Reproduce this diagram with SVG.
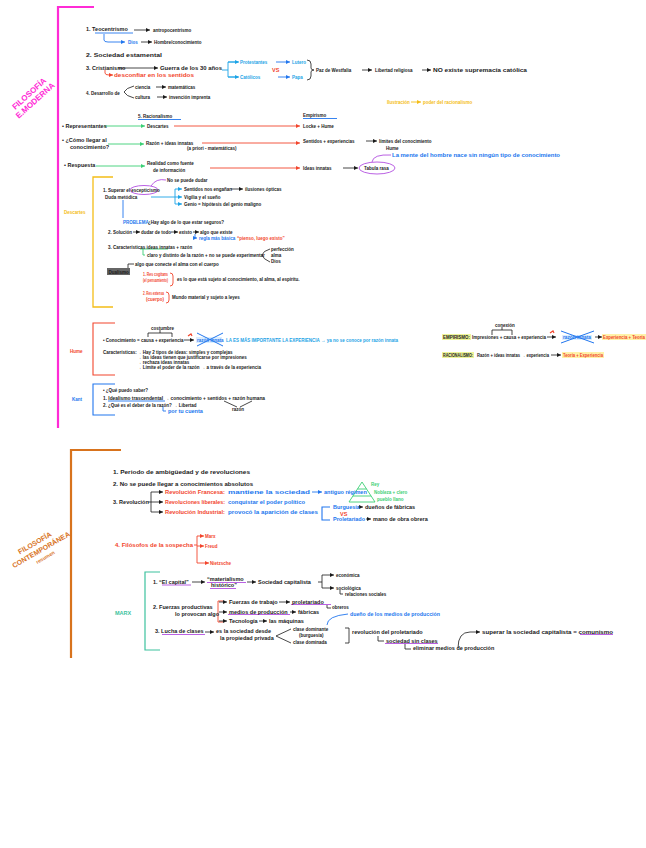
<svg xmlns="http://www.w3.org/2000/svg" width="646" height="848" viewBox="0 0 646 848">
<style>
text{font-family:"Liberation Sans",Arial,sans-serif;font-weight:bold;fill:#1a1a1a}
.m{font-size:5.5px}.s{font-size:4.5px}.l{font-size:6.5px}
.bl{fill:#2176ee}.cy{fill:#1ba3e6}.rd{fill:#f2452c}.gr{fill:#3bcf74}.yl{fill:#f4bd17}.tl{fill:#3cc29e}.mg{fill:#ff2bd6}.or{fill:#d8731d}
.ln{fill:none;stroke:#1a1a1a;stroke-width:0.8}
.lb{fill:none;stroke:#2176ee;stroke-width:0.9}
.lc{fill:none;stroke:#1ba3e6;stroke-width:0.9}
.lr{fill:none;stroke:#f2452c;stroke-width:0.9}
.lg{fill:none;stroke:#3bcf74;stroke-width:0.9}
.lp{fill:none;stroke:#b24fe0;stroke-width:0.9}
.ly{fill:none;stroke:#f4bd17;stroke-width:0.9}
</style>
<defs>
<marker id="ak" markerWidth="5" markerHeight="5" refX="4" refY="2.5" orient="auto" markerUnits="userSpaceOnUse"><path d="M0,0.5 L4,2.5 L0,4.5 Z" fill="#1a1a1a"/></marker>
<marker id="ab" markerWidth="5" markerHeight="5" refX="4" refY="2.5" orient="auto" markerUnits="userSpaceOnUse"><path d="M0,0.5 L4,2.5 L0,4.5 Z" fill="#2176ee"/></marker>
<marker id="ac" markerWidth="5" markerHeight="5" refX="4" refY="2.5" orient="auto" markerUnits="userSpaceOnUse"><path d="M0,0.5 L4,2.5 L0,4.5 Z" fill="#1ba3e6"/></marker>
<marker id="ar" markerWidth="5" markerHeight="5" refX="4" refY="2.5" orient="auto" markerUnits="userSpaceOnUse"><path d="M0,0.5 L4,2.5 L0,4.5 Z" fill="#f2452c"/></marker>
<marker id="ag" markerWidth="5" markerHeight="5" refX="4" refY="2.5" orient="auto" markerUnits="userSpaceOnUse"><path d="M0,0.5 L4,2.5 L0,4.5 Z" fill="#3bcf74"/></marker>
<marker id="ay" markerWidth="5" markerHeight="5" refX="4" refY="2.5" orient="auto" markerUnits="userSpaceOnUse"><path d="M0,0.5 L4,2.5 L0,4.5 Z" fill="#f4bd17"/></marker>
</defs>

<!-- section frames -->
<g id="frame-moderna">
<path d="M94 7 H58 V428" fill="none" stroke="#ff2bd6" stroke-width="2.2"/>
<g transform="translate(33 98) rotate(-42)">
<text class="mg" x="0" y="-3" text-anchor="middle" style="font-size:8px">FILOSOFÍA</text>
<text class="mg" x="0" y="6" text-anchor="middle" style="font-size:8px">E.MODERNA</text>
</g>
</g>
<g id="frame-contemporanea">
<path d="M121 450 H71 V658" fill="none" stroke="#d8731d" stroke-width="2.2"/>
<g transform="translate(40 552) rotate(-30)">
<text class="or" x="0" y="-8" text-anchor="middle" style="font-size:7px">FILOSOFÍA</text>
<text class="or" x="2" y="1" text-anchor="middle" style="font-size:7px">CONTEMPORÁNEA</text>
<text class="or" x="2" y="9" text-anchor="middle" style="font-size:5px">resumen</text>
</g>
</g>

<g id="connectors">
<!-- top -->
<path class="lb" d="M95 33 H133"/>
<path class="lb" d="M104 34 V40 Q104 42 108 42 H125" marker-end="url(#ab)"/>
<path class="ln" d="M134 30 H150" marker-end="url(#ak)"/>
<path class="ln" d="M141 42 H152" marker-end="url(#ak)"/>
<path class="ln" d="M118 68 H158" marker-end="url(#ak)"/>
<path class="lr" d="M105 70 V73 Q105 75 109 75 H113" marker-end="url(#ar)"/>
<path class="lc" d="M222 70 H228 M238 62 H228 V77 H238"/>
<path class="lc" d="M228 62 H239" marker-end="url(#ac)"/>
<path class="lc" d="M228 77 H239" marker-end="url(#ac)"/>
<path class="lb" d="M276 62 H290" marker-end="url(#ab)"/>
<path class="lb" d="M278 77 H290" marker-end="url(#ab)"/>
<path class="ln" d="M307 60 Q311 60 311 64 V68 Q311 70 314 70 Q311 70 311 72 V76 Q311 80 307 80"/>
<path class="ln" d="M362 70 H372" marker-end="url(#ak)"/>
<path class="ln" d="M422 70 H431" marker-end="url(#ak)"/>
<path class="ln" d="M134 86 Q126 88 124 92 Q126 96 134 98"/>
<path class="ln" d="M156 87 H166" marker-end="url(#ak)"/>
<path class="ln" d="M157 97 H167" marker-end="url(#ak)"/>
<path class="ly" d="M411 102 H421" marker-end="url(#ay)"/>
<path class="lb" d="M138 119.5 H181 M303 118.5 H337"/>
<path class="lg" d="M104 126 H145" marker-end="url(#ag)"/>
<path class="lg" d="M108 144 H144" marker-end="url(#ag)"/>
<path class="lg" d="M96 166 H145" marker-end="url(#ag)"/>
<path class="lr" d="M174 126 H300" marker-end="url(#ar)"/>
<path class="lr" d="M202 143 H300" marker-end="url(#ar)"/>
<path class="lr" d="M210 168 H300" marker-end="url(#ar)"/>
<path class="ln" d="M366 141 H377" marker-end="url(#ak)"/>
<path class="ln" d="M343 168 H358" marker-end="url(#ak)"/>
<ellipse class="lp" cx="377" cy="168" rx="18" ry="6"/>
<path class="lp" d="M372 162 Q373 154 391 155"/>
<!-- Descartes -->
<path class="ly" d="M113 177 H93 V307 H113" style="stroke-width:1.3"/>
<ellipse class="lp" cx="144" cy="190" rx="14" ry="4.5"/>
<path class="lp" d="M151 186 Q156 178 166 180"/>
<path class="lc" d="M151 197 H175 M175 189 V204"/>
<path class="lc" d="M175 189 H182" marker-end="url(#ac)"/>
<path class="lc" d="M175 197 H182" marker-end="url(#ac)"/>
<path class="lc" d="M175 204 H182" marker-end="url(#ac)"/>
<path class="lb" d="M123 200 V218"/>
<path class="lb" d="M195 234 V238 H197" marker-end="url(#ab)"/>
<path class="lg" d="M140 249 H168 M143 249 V255 H145"/>
<path class="ln" d="M270 249 Q263 251 262 255 Q263 259 270 262"/>
<rect x="107" y="268" width="23" height="7" fill="#666"/>
<path class="ln" d="M128 268 V264 H134"/>
<path class="lr" d="M170 273 Q173 273 173 276 V283 Q173 286 170 286"/>
<path class="lr" d="M166 292 Q169 292 169 295 V300 Q169 303 166 303"/>
<!-- Hume -->
<path class="lr" d="M115 323 H93 V375 H115" style="stroke-width:1.1"/>
<path class="ln" d="M148 337 V333 H172 V337 M160 333 V330"/>
<path class="ln" d="M184 340 H194" marker-end="url(#ak)"/>
<path class="lr" d="M188 336 l3 -2 l1 2" style="stroke-width:1.2"/>
<rect x="196" y="337" width="26" height="6" fill="#dbeeff"/>
<path class="lb" d="M197 333 L223 346 M197 346 L223 333" style="stroke-width:1"/>
<!-- Kant -->
<path class="lb" d="M115 384 H93 V415 H115" style="stroke-width:1.1"/>
<path class="lb" d="M108 401 H165"/>
<path class="lb" d="M163 406 V411 H166"/>
<path class="ln" d="M224 401 L237 407 M252 401 L240 407"/>
<!-- right comparison -->
<rect x="442" y="334" width="29" height="6" fill="#eef59a"/>
<rect x="442" y="352" width="32" height="6" fill="#eef59a"/>
<rect x="602" y="334" width="44" height="6" fill="#fff2a8"/>
<rect x="562" y="352" width="42" height="6" fill="#fff2a8"/>
<path class="ln" d="M492 335 V330 H512 V335 M502 330 V327"/>
<path class="ln" d="M547 337 H556" marker-end="url(#ak)"/>
<path class="lr" d="M550 333 l3 -2 l1 2" style="stroke-width:1.2"/>
<rect x="562" y="335" width="30" height="5" fill="#dbeeff"/>
<path class="lb" d="M561 331 L594 343 M561 343 L594 331" style="stroke-width:1"/>
<path class="ln" d="M595 337 H602" marker-end="url(#ak)"/>
<path class="ln" d="M551 355 H561" marker-end="url(#ak)"/>
<!-- bottom -->
<path class="ln" d="M148 502 H151 M151 492 V512"/>
<path class="ln" d="M151 492 H163" marker-end="url(#ak)"/>
<path class="ln" d="M151 502 H163" marker-end="url(#ak)"/>
<path class="ln" d="M151 512 H163" marker-end="url(#ak)"/>
<path class="lb" d="M312 492 H322" marker-end="url(#ab)"/>
<path class="lg" d="M362 482 L349 502 L375 502 Z M357.5 489 H366.5 M353 496 H371"/>
<path class="lb" d="M330 507 H322 V520 H330" style="stroke-width:1.1"/>
<path class="ln" d="M358 507 H363" marker-end="url(#ak)"/>
<path class="ln" d="M366 519 H371" marker-end="url(#ak)"/>
<path class="lr" d="M194 545 H197 M197 536 V563"/>
<path class="lr" d="M197 536 H204" marker-end="url(#ar)"/>
<path class="lr" d="M197 546 H204" marker-end="url(#ar)"/>
<path class="lr" d="M197 563 H209" marker-end="url(#ar)"/>
<path d="M160 572 H145 V650 H160" fill="none" stroke="#3cc29e" stroke-width="1.2"/>
<path class="ln" d="M192 582 H205" marker-end="url(#ak)"/>
<path class="ln" d="M247 582 H256" marker-end="url(#ak)"/>
<path class="lp" d="M162 585 H191 M207 582.5 H246 M210 588.5 H236"/>
<path class="ln" d="M322 575 V588 M318 582 H322"/>
<path class="ln" d="M322 575 H334" marker-end="url(#ak)"/>
<path class="ln" d="M322 588 H334" marker-end="url(#ak)"/>
<path class="ln" d="M340 590 V594 H343"/>
<path class="lr" d="M223 601 H218 V622 H223"/>
<path class="ln" d="M219 602 H227" marker-end="url(#ak)"/>
<path class="ln" d="M219 612 H227" marker-end="url(#ak)"/>
<path class="ln" d="M219 621 H227" marker-end="url(#ak)"/>
<path class="ln" d="M279 602 H290" marker-end="url(#ak)"/>
<path class="ln" d="M290 612 H296" marker-end="url(#ak)"/>
<path class="ln" d="M259 621 H267" marker-end="url(#ak)"/>
<path class="lp" d="M291 604.5 H331 M228 614.5 H290"/>
<path class="ln" d="M327 605 V608 H331"/>
<path class="lb" d="M327 625 Q327 616 348 614"/>
<path class="ln" d="M205 632 H214" marker-end="url(#ak)"/>
<path class="lp" d="M162 634.5 H205"/>
<path class="ln" d="M291 629 L276 636 L291 643"/>
<path class="ln" d="M345 628 H349 V643 H345"/>
<path class="ln" d="M378 636 V641 H384"/>
<path class="ln" d="M405 644 V649 H411"/>
<path class="lp" d="M385 643.5 H438"/>
<path class="ln" d="M458 648 Q458 632 470 632 H480" marker-end="url(#ak)"/>
<path class="lp" d="M580 634.5 H613"/>
</g>

<!-- ===== MODERNA nodes ===== -->
<g id="n-teocentrismo">
<text class="m" x="86" y="31">1. Teocentrismo</text>
<text class="s" x="153" y="31.5">antropocentrismo</text>
<text class="s bl" x="128" y="43.5">Dios</text>
<text class="s" x="154" y="43.5">Hombre/conocimiento</text>
</g>
<g id="n-sociedad"><text class="m" x="86" y="57" textLength="76" lengthAdjust="spacingAndGlyphs">2. Sociedad estamental</text></g>
<g id="n-cristianismo">
<text class="m" x="86" y="70">3. Cristianismo</text>
<text class="m" x="160" y="70" textLength="62" lengthAdjust="spacingAndGlyphs">Guerra de los 30 años</text>
<text class="m rd" x="114" y="77" textLength="80" lengthAdjust="spacingAndGlyphs">desconfiar en los sentidos</text>
<text class="s cy" x="240" y="63.5">Protestantes</text>
<text class="s cy" x="292" y="63.5">Lutero</text>
<text class="m rd" x="272" y="72">VS</text>
<text class="s cy" x="240" y="78.5">Católicos</text>
<text class="s cy" x="292" y="78.5">Papa</text>
<text class="s" x="316" y="71.5">Paz de Westfalia</text>
<text class="s" x="375" y="71.5">Libertad religiosa</text>
<text class="s" x="433" y="71.5" textLength="94" lengthAdjust="spacingAndGlyphs">NO existe supremacía católica</text>
</g>
<g id="n-desarrollo">
<text class="s" x="86" y="94.5">4. Desarrollo de</text>
<text class="s" x="135" y="88.5">ciencia</text>
<text class="s" x="168" y="88.5">matemáticas</text>
<text class="s" x="135" y="98.5">cultura</text>
<text class="s" x="169" y="98.5">invención imprenta</text>
</g>
<g id="n-ilustracion"><text class="s yl" x="387" y="103.5">Ilustración</text><text class="s yl" x="423" y="103.5">poder del racionalismo</text></g>
<g id="n-racionalismo">
<text class="s" x="138" y="118">5. Racionalismo</text>
<text class="s" x="303" y="117">Empirismo</text>
<text class="m" x="62" y="128">• Representantes</text>
<text class="s" x="147" y="127.5">Descartes</text>
<text class="s" x="303" y="127.5">Locke + Hume</text>
<text class="m" x="62" y="142">• ¿Cómo llegar al</text>
<text class="m" x="70" y="149">conocimiento?</text>
<text class="s" x="146" y="144.5">Razón + ideas innatas</text>
<text class="s" x="187" y="150">(a priori - matemáticas)</text>
<text class="s" x="303" y="142.5">Sentidos + experiencias</text>
<text class="s" x="379" y="142.5">límites del conocimiento</text>
<text class="s" x="386" y="149.5">Hume</text>
<text class="m" x="64" y="167">• Respuesta</text>
<text class="s" x="147" y="164.5">Realidad como fuente</text>
<text class="s" x="153" y="172">de información</text>
<text class="s" x="303" y="169.5">Ideas innatas</text>
<text class="s" x="364" y="169.5">Tabula rasa</text>
<text class="m bl" x="392" y="157" textLength="168" lengthAdjust="spacingAndGlyphs">La mente del hombre nace sin ningún tipo de conocimiento</text>
</g>
<g id="n-descartes">
<text class="s yl" x="64" y="213.5">Descartes</text>
<text class="s" x="167" y="181.5">No se puede dudar</text>
<text class="s" x="103" y="191.5">1. Superar el escepticismo</text>
<text class="s" x="105" y="198.5">Duda metódica</text>
<text class="s" x="184" y="190.5">Sentidos nos engañan</text>
<text class="s" x="245" y="190.5">ilusiones ópticas</text>
<path class="ln" d="M231 189 H243" marker-end="url(#ak)"/>
<text class="s" x="184" y="198.5">Vigilia y el sueño</text>
<text class="s" x="184" y="205.5">Genio = hipótesis del genio maligno</text>
<text class="s bl" x="123" y="223.5">PROBLEMA</text>
<text class="s" x="148" y="223.5">¿Hay algo de lo que estar seguros?</text>
<text class="s" x="108" y="233.5">2. Solución</text>
<path class="ln" d="M133 232 H140" marker-end="url(#ak)"/>
<text class="s" x="141" y="233.5">dudar de todo</text>
<path class="ln" d="M171 232 H178" marker-end="url(#ak)"/>
<text class="s" x="179" y="233.5">existo</text>
<path class="ln" d="M193 232 H199" marker-end="url(#ak)"/>
<text class="s" x="200" y="233.5">algo que existe</text>
<text class="s bl" x="199" y="239.5">regla más básica</text>
<text class="s rd" x="237" y="239.5">“pienso, luego existo”</text>
<text class="s" x="108" y="248.5">3. Características ideas innatas + razón</text>
<text class="s" x="147" y="256.5">claro y distinto de la razón + no se puede experimentar</text>
<text class="s" x="271" y="250.5">perfección</text>
<text class="s" x="271" y="256.5">alma</text>
<text class="s" x="271" y="263">Dios</text>
<text class="s" x="108.5" y="273.5">Dualismo</text>
<text class="s" x="135" y="265.5">algo que conecte el alma con el cuerpo</text>
<text class="s rd" x="143" y="276" textLength="25" lengthAdjust="spacingAndGlyphs">1. Res cogitans</text>
<text class="s rd" x="143" y="281.5" textLength="25" lengthAdjust="spacingAndGlyphs">(el pensamiento)</text>
<text class="s" x="177" y="280.5">es lo que está sujeto al conocimiento, al alma, al espíritu.</text>
<text class="s rd" x="143" y="295" textLength="21" lengthAdjust="spacingAndGlyphs">2. Res extensa</text>
<text class="s rd" x="146" y="300.5">(cuerpo)</text>
<text class="s" x="172" y="298.5">Mundo material y sujeto a leyes</text>
</g>
<g id="n-hume">
<text class="s rd" x="70" y="352.5">Hume</text>
<text class="s" x="151" y="330">costumbre</text>
<text class="s" x="103" y="341.5">• Conocimiento = causa + experiencia</text>
<text class="s bl" x="197" y="341.5">razón innata</text>
<text class="m cy" x="226" y="342" textLength="172" lengthAdjust="spacingAndGlyphs">LA ES MÁS IMPORTANTE LA EXPERIENCIA → ya no se conoce por razón innata</text>
<text class="s" x="103" y="353.5">Características:</text>
<text class="s" x="137" y="353.5">→ Hay 2 tipos de ideas: simples y complejas</text>
<text class="s" x="137" y="358.5">→ las ideas tienen que justificarse por impresiones</text>
<text class="s" x="137" y="363.5">→ rechaza ideas innatas</text>
<text class="s" x="137" y="368.5">→ Límite el poder de la razón → a través de la experiencia</text>
</g>
<g id="n-kant">
<text class="s bl" x="72" y="400.5">Kant</text>
<text class="s" x="103" y="391.5">• ¿Qué puedo saber?</text>
<text class="s" x="103" y="399.5" textLength="162" lengthAdjust="spacingAndGlyphs">1. Idealismo trascendental → conocimiento + sentidos + razón humana</text>
<text class="s" x="103" y="406.5">2. ¿Qué es el deber de la razón? → Libertad</text>
<text class="m bl" x="168" y="413">por tu cuenta</text>
<text class="s" x="232" y="411">razón</text>
</g>
<g id="n-comparacion">
<text class="s" x="495" y="327">conexión</text>
<text class="s" x="443" y="339" textLength="27" lengthAdjust="spacingAndGlyphs">EMPIRISMO:</text>
<text class="s" x="472" y="339" textLength="74" lengthAdjust="spacingAndGlyphs">Impresiones + causa + experiencia</text>
<text class="s bl" x="563" y="339" textLength="28" lengthAdjust="spacingAndGlyphs">razón innata</text>
<text class="s rd" x="603" y="339" textLength="42" lengthAdjust="spacingAndGlyphs">Experiencia + Teoría</text>
<text class="s" x="443" y="357" textLength="30" lengthAdjust="spacingAndGlyphs">RACIONALISMO:</text>
<text class="s" x="477" y="357" textLength="72" lengthAdjust="spacingAndGlyphs">Razón + ideas innatas → experiencia</text>
<text class="s rd" x="563" y="357" textLength="40" lengthAdjust="spacingAndGlyphs">Teoría + Experiencia</text>
</g>

<!-- ===== CONTEMPORÁNEA nodes ===== -->
<g id="n-periodo"><text class="m" x="113" y="474" textLength="137" lengthAdjust="spacingAndGlyphs">1. Periodo de ambigüedad y de revoluciones</text></g>
<g id="n-absolutos"><text class="m" x="113" y="486" textLength="140" lengthAdjust="spacingAndGlyphs">2. No se puede llegar a conocimientos absolutos</text></g>
<g id="n-revolucion">
<text class="m" x="113" y="504">3. Revolución</text>
<text class="m rd" x="165" y="494" textLength="60" lengthAdjust="spacingAndGlyphs">Revolución Francesa:</text>
<text class="m bl" x="228" y="494" textLength="82" lengthAdjust="spacingAndGlyphs">mantiene la sociedad</text>
<text class="m bl" x="324" y="494">antiguo régimen</text>
<text class="s gr" x="371" y="486">Rey</text>
<text class="s gr" x="374" y="493.5">Nobleza + clero</text>
<text class="s gr" x="377" y="500.5">pueblo llano</text>
<text class="m rd" x="165" y="504" textLength="60" lengthAdjust="spacingAndGlyphs">Revoluciones liberales:</text>
<text class="m bl" x="228" y="504" textLength="77" lengthAdjust="spacingAndGlyphs">conquistar el poder político</text>
<text class="m rd" x="165" y="514" textLength="60" lengthAdjust="spacingAndGlyphs">Revolución Industrial:</text>
<text class="m bl" x="228" y="514" textLength="90" lengthAdjust="spacingAndGlyphs">provocó la aparición de clases</text>
<text class="m bl" x="333" y="509">Burguesía</text>
<text class="m" x="365" y="509">dueños de fábricas</text>
<text class="m rd" x="340" y="515.5">VS</text>
<text class="m bl" x="333" y="521">Proletariado</text>
<text class="m" x="373" y="521">mano de obra obrera</text>
</g>
<g id="n-sospecha">
<text class="m rd" x="115" y="547" textLength="78" lengthAdjust="spacingAndGlyphs">4. Filósofos de la sospecha</text>
<text class="s rd" x="205" y="537.5">Marx</text>
<text class="s rd" x="205" y="547.5">Freud</text>
<text class="s rd" x="210" y="565">Nietzsche</text>
</g>
<g id="n-marx">
<text class="m tl" x="115" y="615">MARX</text>
<text class="m" x="153" y="584">1. “El capital”</text>
<text class="m" x="207" y="581">“materialismo</text>
<text class="m" x="211" y="587">histórico”</text>
<text class="m" x="258" y="584">Sociedad capitalista</text>
<text class="s" x="336" y="576.5">económica</text>
<text class="s" x="336" y="589.5">sociológica</text>
<text class="s" x="345" y="596">relaciones sociales</text>
<text class="m" x="153" y="609">2. Fuerzas productivas</text>
<text class="m" x="175" y="616">lo provocan algo</text>
<text class="m" x="229" y="604">Fuerzas de trabajo</text>
<text class="m" x="292" y="604">proletariado</text>
<text class="s" x="332" y="609">obreros</text>
<text class="m" x="229" y="614">medios de producción</text>
<text class="m" x="298" y="614">fábricas</text>
<text class="m" x="229" y="623">Tecnología</text>
<text class="m" x="269" y="623">las máquinas</text>
<text class="m bl" x="350" y="616" textLength="90" lengthAdjust="spacingAndGlyphs">dueño de los medios de producción</text>
<text class="m" x="155" y="633">3. Lucha de clases</text>
<text class="m" x="216" y="633">es la sociedad desde</text>
<text class="m" x="220" y="640">la propiedad privada</text>
<text class="s" x="293" y="631">clase dominante</text>
<text class="s" x="299" y="636.5">(burguesía)</text>
<text class="s" x="293" y="643.5">clase dominada</text>
<text class="m" x="352" y="634">revolución del proletariado</text>
<text class="m" x="386" y="643">sociedad sin clases</text>
<text class="m" x="413" y="650">eliminar medios de producción</text>
<text class="m" x="482" y="634" textLength="131" lengthAdjust="spacingAndGlyphs">superar la sociedad capitalista = comunismo</text>
</g>
</svg>
